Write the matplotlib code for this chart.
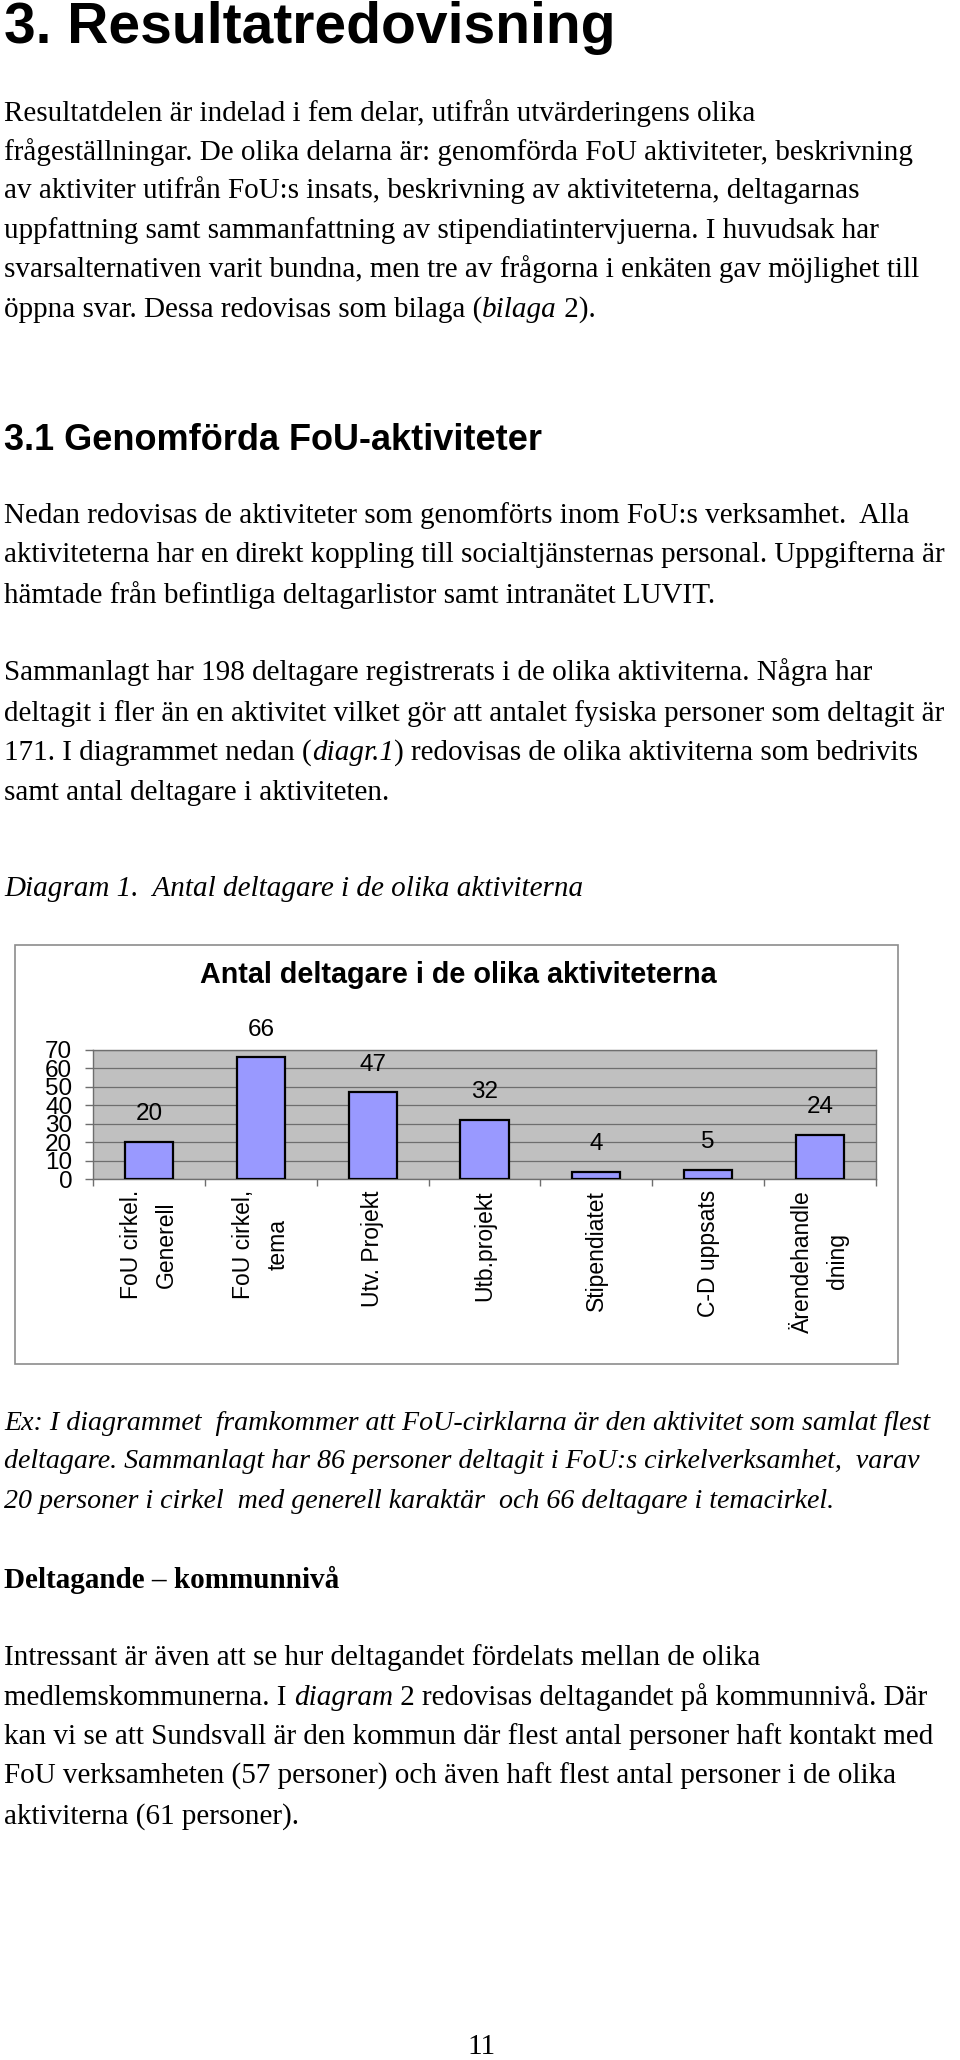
import matplotlib
matplotlib.use("Agg")
import matplotlib.pyplot as plt
from matplotlib.patches import Rectangle

W, H = 960, 2060
DPI = 100

# chart data
categories = ["FoU cirkel.\nGenerell", "FoU cirkel,\ntema", "Utv. Projekt", "Utb.projekt",
              "Stipendiatet", "C-D uppsats", "Ärendehandle\ndning"]
deltagare = [20, 66, 47, 32, 4, 5, 24]
yticks = [0, 10, 20, 30, 40, 50, 60, 70]

SERIF = "Liberation Serif"
SANS = "Liberation Sans"
BODY = 21
EX = 20.2

fig = plt.figure(figsize=(W / DPI, H / DPI), dpi=DPI)
fig.patch.set_facecolor("white")
renderer = fig.canvas.get_renderer()


def fy(py):
    return 1 - py / H


def fx(px):
    return px / W


def line(x, y, runs, size=BODY, family=SERIF):
    # runs: list of (text, style, weight)
    cur = x
    for txt, style, weight in runs:
        t = fig.text(fx(cur), fy(y), txt, fontsize=size, family=family, style=style,
                     weight=weight, va="baseline", ha="left")
        bb = t.get_window_extent(renderer=renderer)
        cur += bb.width


def plain(x, y, txt, **kw):
    line(x, y, [(txt, "normal", "normal")], **kw)


# heading
fig.text(fx(4), fy(43), "3. Resultatredovisning", fontsize=41, family=SANS,
         weight="bold", va="baseline", ha="left")

para1 = ["Resultatdelen är indelad i fem delar, utifrån utvärderingens olika",
         "frågeställningar. De olika delarna är: genomförda FoU aktiviteter, beskrivning",
         "av aktiviter utifrån FoU:s insats, beskrivning av aktiviteterna, deltagarnas",
         "uppfattning samt sammanfattning av stipendiatintervjuerna. I huvudsak har",
         "svarsalternativen varit bundna, men tre av frågorna i enkäten gav möjlighet till"]
base1 = [121, 160, 198, 238, 277]
for s, b in zip(para1, base1):
    plain(4, b, s)
line(4, 317, [("öppna svar. Dessa redovisas som bilaga (", "normal", "normal"),
              ("bilaga", "italic", "normal"), (" 2).", "normal", "normal")])

fig.text(fx(4), fy(450), "3.1 Genomförda FoU-aktiviteter", fontsize=26, family=SANS,
         weight="bold", va="baseline", ha="left")

para2 = ["Nedan redovisas de aktiviteter som genomförts inom FoU:s verksamhet.  Alla",
         "aktiviteterna har en direkt koppling till socialtjänsternas personal. Uppgifterna är",
         "hämtade från befintliga deltagarlistor samt intranätet LUVIT."]
for s, b in zip(para2, [523, 562, 603]):
    plain(4, b, s)

plain(4, 680, "Sammanlagt har 198 deltagare registrerats i de olika aktiviterna. Några har")
plain(4, 721, "deltagit i fler än en aktivitet vilket gör att antalet fysiska personer som deltagit är")
line(4, 760, [("171. I diagrammet nedan (", "normal", "normal"), ("diagr.1", "italic", "normal"),
              (") redovisas de olika aktiviterna som bedrivits", "normal", "normal")])
plain(4, 800, "samt antal deltagare i aktiviteten.")

line(4, 896, [("Diagram 1.  Antal deltagare i de olika aktiviterna", "italic", "normal")])

# chart frame and title
fig.patches.append(Rectangle((fx(15), fy(1364)), fx(898 - 15), (1364 - 945) / H,
                             transform=fig.transFigure, fill=False, edgecolor="#8c8c8c",
                             linewidth=1.2))
fig.text(fx(458), fy(975), "Antal deltagare i de olika aktiviteterna", fontsize=20.7,
         family=SANS, weight="bold", ha="center", va="center")

ax = fig.add_axes([fx(93), fy(1179), fx(876 - 93), (1179 - 1050) / H])
ax.set_facecolor("#c0c0c0")
xs = list(range(len(categories)))
ax.bar(xs, deltagare, width=0.43, color="#9999ff", edgecolor="black", linewidth=1.6,
       zorder=3)
ax.set_xlim(-0.5, len(categories) - 0.5)
ax.set_ylim(0, 70)
ax.set_yticks(yticks)
ax.set_yticklabels([str(v) for v in yticks], family=SANS, fontsize=17.5)
ax.yaxis.grid(True, color="#6e6e6e", linewidth=0.9, zorder=1)
ax.set_axisbelow(True)
ax.tick_params(axis="y", length=6, width=1, color="#6e6e6e", pad=9)
ax.set_xticks(xs)
ax.set_xticklabels(categories, rotation=90, family=SANS, fontsize=16.5,
                   linespacing=1.65, multialignment="center", va="top", ha="center")
ax.set_xticks([x - 0.5 for x in xs] + [len(xs) - 0.5], minor=True)
ax.tick_params(axis="x", which="major", length=0, pad=8)
ax.tick_params(axis="x", which="minor", length=5, width=1, color="#6e6e6e")
for sp in ax.spines.values():
    sp.set_color("#6e6e6e")
    sp.set_linewidth(1)

for x, v in zip(xs, deltagare):
    ax.annotate(str(v), (x, v), xytext=(0, 20), textcoords="offset points",
                ha="center", va="center", family=SANS, fontsize=17.5)

# after chart
line(4, 1430, [("Ex: I diagrammet  framkommer att FoU-cirklarna är den aktivitet som samlat flest",
                "italic", "normal")], size=EX)
line(4, 1468, [("deltagare. Sammanlagt har 86 personer deltagit i FoU:s cirkelverksamhet,  varav",
                "italic", "normal")], size=EX)
line(4, 1508, [("20 personer i cirkel  med generell karaktär  och 66 deltagare i temacirkel.",
                "italic", "normal")], size=EX)

line(4, 1588, [("Deltagande – kommunnivå", "normal", "bold")])

plain(4, 1665, "Intressant är även att se hur deltagandet fördelats mellan de olika")
line(4, 1705, [("medlemskommunerna. I ", "normal", "normal"), ("diagram", "italic", "normal"),
               (" 2 redovisas deltagandet på kommunnivå. Där", "normal", "normal")])
plain(4, 1744, "kan vi se att Sundsvall är den kommun där flest antal personer haft kontakt med")
plain(4, 1784, "FoU verksamheten (57 personer) och även haft flest antal personer i de olika")
plain(4, 1824, "aktiviterna (61 personer).")

fig.text(fx(481), fy(2054), "11", fontsize=BODY, family=SERIF, ha="center", va="baseline")

fig.savefig("out.png", dpi=DPI)
